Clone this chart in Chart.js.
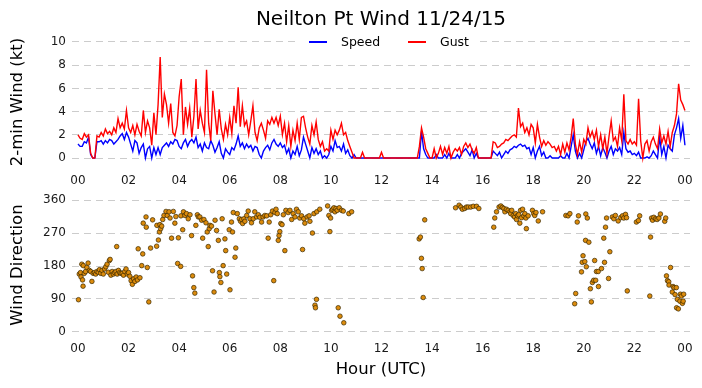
<!DOCTYPE html>
<html>
<head>
<meta charset="utf-8">
<script src="https://cdn.jsdelivr.net/npm/chart.js@4.4.1/dist/chart.umd.min.js"></script>
<style>
  html, body { margin: 0; padding: 0; background: #fff; }
  #wrap { position: relative; width: 702px; height: 388px; overflow: hidden; font-family: 'DejaVu Sans', sans-serif; }
  #title { position: absolute; left: 72px; width: 618px; top: 6px; line-height: 24px; text-align: center; font-size: 20px; color: #000; }
  #c1 { position: absolute; left: 0; top: 0; }
  #c2 { position: absolute; left: 0; top: 189px; }
  #legend { position: absolute; left: 300px; top: 33px; width: 177px; height: 18px; background: #fff; }
  .sw { position: absolute; top: 8px; height: 1.5px; width: 18px; }
  .lt { position: absolute; top: 0; font-size: 12.5px; line-height: 18px; color: #000; }
</style>
</head>
<body>
<div id="wrap">
  <canvas id="c1" width="702" height="192"></canvas>
  <canvas id="c2" width="702" height="199"></canvas>
  <div id="title">Neilton Pt Wind 11/24/15</div>
  <div id="legend">
    <div class="sw" style="left:9px;background:#0000ff"></div><div class="lt" style="left:41px" id="lab0"></div>
    <div class="sw" style="left:108px;background:#ff0000"></div><div class="lt" style="left:140px" id="lab1"></div>
  </div>
</div>
<script>
// ---- data (5-minute samples, 00 UTC to 24 UTC) ----
const SAMPLE_MINUTES = 5;
const seriesNames = ['Speed', 'Gust'];
const speed = [
  1.2,1.0,1.0,1.4,1.3,1.8,0.3,0,0,1.4,1.4,1.5,
  1.2,1.5,1.3,1.6,1.5,1.2,1.4,1.6,1.9,2.1,1.6,2.2,
  1.8,1.2,0.6,1.5,1.3,0.4,0.9,1.2,0,0.8,1.0,0,
  0.9,0.3,0.9,0.3,0.9,1.1,1.3,1.0,1.4,1.2,1.6,1.5,
  1.0,0.8,1.3,1.6,1.0,1.4,1.6,1.3,1.8,0.9,1.2,0.6,
  1.3,0.9,0.8,1.5,1.1,0.5,0.9,1.4,0.4,0,0.8,0.5,
  0.3,0.9,0.7,1.2,1.9,1.0,1.3,0.8,1.2,0.9,1.1,0.6,
  1.0,0.9,0.3,0,0.6,0.9,1.1,0.7,1.3,1.6,1.2,1.0,
  1.3,0.9,1.1,0.4,0.8,0,0.6,0.3,1.0,0.2,0.7,1.8,
  1.2,0.6,0,0.9,0.4,0.8,0.3,0.6,0,0.2,0,0.3,
  1.0,0.6,1.5,0.9,1.0,0.6,1.2,0.4,0.7,0.2,0,0.3,
  0,0,0,0,0,0,0,0,0,0,0,0,
  0,0,0,0,0,0,0,0,0,0,0,0,
  0,0,0,0,0,0,0,2.3,0.8,0.3,0,0,
  0,0,0.3,0,0,0,0.3,0,0.4,0,0,0,
  0.3,0,0.4,0.6,0.8,0.5,0.2,0.7,0,0.4,0,0,
  0,0,0,0,0,0.6,0.4,0.2,0.5,0,0.3,0.6,
  0.4,0.7,0.8,1.0,0.9,1.1,1.2,1.0,1.1,0.8,0.9,0.3,
  0.9,0,0.6,1.0,0.2,0.5,0,0,0.2,0,0,0,
  0,0.2,0,0,0.4,0,1.0,2.0,0.6,0,0.4,0,
  0.7,1.4,1.7,1.2,0.8,1.3,0.4,1.0,0.2,0.9,0.5,0,
  0.6,1.0,0.3,0.8,0.6,0.9,0.3,2.2,0.8,0.5,0.6,0.3,
  0.4,0.2,0.5,0,0,0,0.1,0,0.2,0.6,0.3,0,
  1.8,0.3,1.0,0,1.1,0.8,0.6,2.0,2.6,3.4,1.7,2.8,
  1.1
];
const gust = [
  2.0,1.7,1.6,2.1,1.8,2.0,0.4,0,0,1.9,1.8,2.2,
  1.9,2.5,2.1,2.3,2.0,2.6,2.2,3.4,2.6,3.0,2.5,4.1,
  2.6,2.2,2.8,2.0,2.9,2.3,1.9,4.1,2.2,3.2,2.6,1.1,
  3.9,2.0,4.6,8.7,3.5,5.5,4.6,3.0,4.7,2.2,1.9,2.8,
  5.3,6.8,2.0,4.4,2.9,4.3,1.8,3.6,6.8,2.5,4.1,3.0,
  2.2,7.6,3.0,1.5,5.8,3.8,2.0,4.2,2.5,1.6,2.9,2.0,
  3.5,2.1,4.5,3.0,6.1,2.7,4.5,2.8,3.2,2.0,3.2,4.5,
  2.2,1.5,2.6,3.0,2.4,1.7,3.2,2.9,3.5,3.0,3.5,2.8,
  3.6,2.0,3.0,1.4,2.8,1.0,2.4,1.5,3.0,1.6,3.5,3.6,
  2.6,1.8,1.2,2.8,2.0,3.1,1.6,1.0,1.4,0.6,0.8,0.6,
  2.4,1.6,2.4,2.0,2.4,3.0,2.0,2.2,1.5,1.0,0.5,0,
  0,0,0,0.5,0,0,0,0,0,0,0,0,
  0.5,0,0,0,0,0,0,0,0,0,0,0,
  0,0,0,0,0,0,1.0,2.6,1.8,0.8,0.4,0,
  0,0.8,0,0.4,1.0,0.3,0.9,0.4,1.0,0,0.5,0.8,
  0.6,0.9,0.3,1.0,1.3,0.9,1.2,0.7,0.4,0.9,0,0,
  0,0,0,0,0,1.4,1.3,0.9,1.0,1.2,1.3,1.6,
  1.5,1.7,1.9,2.0,1.8,4.3,2.7,3.0,2.2,2.6,2.0,2.9,
  2.6,1.3,2.9,1.8,1.0,1.5,1.1,1.4,1.2,0.9,1.0,0.6,
  1.0,0.3,1.2,0.5,1.3,0.7,1.8,3.4,1.2,0.3,1.4,0.5,
  1.6,1.2,2.6,1.8,2.3,1.6,2.4,1.0,2.0,0.8,1.8,0.4,
  1.9,3.2,1.5,1.8,1.0,2.6,1.5,5.5,1.5,1.2,1.6,1.2,
  1.4,1.1,5.1,1.5,0,1.2,1.5,0.6,1.4,1.8,1.2,0.8,
  2.5,1.3,1.9,1.2,2.3,1.0,2.2,2.8,3.8,6.4,5.0,4.6,
  4.1
];
const sampleHours = speed.map((_, i) => i * SAMPLE_MINUTES / 60);

const dirHour = [
  0.02,0.05,0.10,0.12,0.15,0.18,0.20,0.21,0.25,0.30,0.35,0.40,0.45,0.50,0.55,0.60,0.65,0.70,0.75,0.80,
  0.85,0.90,0.95,1.00,1.05,1.10,1.15,1.20,1.24,1.27,1.30,1.35,1.40,1.45,1.50,1.53,1.55,1.60,1.65,1.70,
  1.75,1.80,1.85,1.90,1.95,2.00,2.05,2.10,2.15,2.20,2.25,2.30,2.35,2.38,2.45,2.52,2.56,2.58,2.69,2.70,
  2.74,2.80,2.87,2.95,3.11,3.12,3.18,3.22,3.24,3.27,3.31,3.35,3.40,3.48,3.53,3.60,3.64,3.70,3.77,3.83,
  3.87,3.94,3.97,4.06,4.07,4.14,4.17,4.23,4.29,4.36,4.43,4.49,4.53,4.58,4.62,4.66,4.72,4.76,4.82,4.89,
  4.93,4.98,5.06,5.11,5.15,5.19,5.22,5.28,5.32,5.38,5.42,5.48,5.55,5.59,5.61,5.65,5.70,5.74,5.81,5.84,
  5.88,5.98,6.01,6.07,6.11,6.14,6.21,6.24,6.30,6.38,6.43,6.47,6.51,6.56,6.60,6.67,6.73,6.80,6.86,6.93,
  6.99,7.06,7.13,7.19,7.26,7.32,7.39,7.46,7.52,7.56,7.62,7.69,7.74,7.79,7.83,7.88,7.92,7.95,7.98,8.02,
  8.07,8.12,8.18,8.22,8.31,8.38,8.45,8.51,8.58,8.64,8.71,8.77,8.84,8.88,8.93,8.97,9.06,9.14,9.17,9.27,
  9.33,9.37,9.39,9.43,9.44,9.56,9.87,9.92,9.96,9.99,10.03,10.07,10.12,10.16,10.20,10.25,10.29,10.33,10.36,10.42,
  10.49,10.51,10.71,10.82,13.49,13.54,13.58,13.61,13.65,13.71,14.93,15.07,15.14,15.20,15.29,15.36,15.43,15.53,15.63,15.76,
  15.85,16.44,16.48,16.55,16.65,16.72,16.78,16.84,16.88,16.94,17.01,17.08,17.11,17.15,17.21,17.26,17.31,17.34,17.38,17.43,
  17.47,17.50,17.54,17.58,17.63,17.67,17.71,17.73,17.80,17.97,18.02,18.06,18.11,18.20,18.37,19.29,19.38,19.45,19.64,19.68,
  19.74,19.79,19.91,19.94,19.97,20.04,20.07,20.08,20.10,20.14,20.20,20.26,20.30,20.34,20.39,20.43,20.47,20.50,20.57,20.58,
  20.70,20.79,20.82,20.86,20.90,20.98,21.03,21.13,21.19,21.25,21.36,21.46,21.53,21.58,21.65,21.69,21.72,22.08,22.16,22.21,
  22.61,22.64,22.68,22.72,22.77,22.84,22.90,22.97,23.03,23.20,23.24,23.27,23.31,23.36,23.37,23.43,23.50,23.53,23.57,23.61,
  23.66,23.67,23.70,23.74,23.80,23.82,23.86,23.90,23.93,23.95
];
const dirDeg = [
  88,158,162,150,185,142,125,181,160,165,176,188,168,165,138,160,162,158,165,163,
  170,160,168,158,172,178,185,163,195,198,155,165,158,162,165,233,158,168,162,160,
  160,155,165,172,158,162,152,140,130,145,138,150,142,227,148,181,213,297,314,286,
  176,82,229,306,234,291,251,273,293,282,289,307,318,329,318,328,311,256,329,297,
  315,187,257,179,317,279,328,318,323,309,320,263,153,121,106,291,320,314,314,305,
  256,307,298,273,233,282,291,289,167,109,305,277,250,162,151,135,309,181,254,222,
  158,279,115,300,273,326,204,229,323,309,302,307,296,309,302,318,330,309,298,309,
  328,314,320,313,300,314,318,317,256,300,320,330,140,326,335,323,250,263,274,296,
  293,320,222,332,326,332,307,323,314,335,328,311,317,225,309,297,314,317,302,270,
  323,73,66,89,328,335,344,318,274,311,332,335,339,328,337,332,66,339,43,332,
  330,25,323,328,254,259,201,173,94,306,339,346,341,335,337,341,341,341,343,343,
  337,286,311,328,341,344,340,337,328,335,332,328,323,332,318,314,323,307,317,320,
  297,332,312,335,317,323,311,282,317,332,323,318,326,303,328,318,317,323,77,105,
  300,317,164,190,208,192,250,322,178,311,245,118,82,135,141,195,141,165,165,124,
  173,256,190,286,311,146,219,314,309,318,303,312,317,311,321,312,112,300,304,317,
  98,259,311,305,313,309,307,311,322,302,311,153,140,137,128,176,109,124,121,102,
  121,66,89,63,84,103,98,78,84,103
];

const hourTicks = [0,2,4,6,8,10,12,14,16,18,20,22,24];
const speedTicks = [0,2,4,6,8,10];
const dirTicks = [0,90,180,270,360];

document.getElementById('lab0').textContent = seriesNames[0];
document.getElementById('lab1').textContent = seriesNames[1];

const FONT = 'DejaVu Sans';
const tickFont = { family: FONT, size: 12 };
const X_MIN = -0.237, X_MAX = 24.2;

function noPad(s) { s.paddingTop = 0; s.paddingBottom = 0; s.paddingLeft = 0; s.paddingRight = 0; }

function xScale(axisHeight, extra) {
  return Object.assign({
    type: 'linear', min: X_MIN, max: X_MAX,
    grid: { display: false, drawTicks: false },
    border: { display: false },
    afterBuildTicks: s => { s.ticks = hourTicks.map(v => ({ value: v })); },
    afterFit: s => { s.height = axisHeight; noPad(s); },
    ticks: {
      padding: 6, maxRotation: 0, autoSkip: false, color: '#1a1a1a', font: tickFont,
      callback: v => String(v % 24).padStart(2, '0')
    }
  }, extra || {});
}
function yScale(min, max, ticks, titleText) {
  return {
    type: 'linear', min: min, max: max,
    afterBuildTicks: s => { s.ticks = ticks.map(v => ({ value: v })); },
    afterFit: s => { s.width = 72; noPad(s); },
    grid: { color: '#cccccc', lineWidth: 1, drawTicks: false },
    border: { display: false, dash: [7, 5] },
    ticks: { padding: 6, color: '#1a1a1a', font: tickFont },
    title: { display: true, text: titleText, color: '#000', font: { family: FONT, size: 16.5 }, padding: { top: 8, bottom: 0 } }
  };
}

new Chart(document.getElementById('c1'), {
  type: 'line',
  data: {
    datasets: [
      { label: seriesNames[0], data: sampleHours.map((h, i) => ({ x: h, y: speed[i] })),
        borderColor: '#0000ff', borderWidth: 1.4, pointRadius: 0, tension: 0, order: 2 },
      { label: seriesNames[1], data: sampleHours.map((h, i) => ({ x: h, y: gust[i] })),
        borderColor: '#ff0000', borderWidth: 1.4, pointRadius: 0, tension: 0, order: 1 }
    ]
  },
  options: {
    responsive: false, animation: false, events: [],
    layout: { padding: { top: 36, right: 12, left: 0, bottom: 0 } },
    plugins: { legend: { display: false }, tooltip: { enabled: false } },
    scales: {
      x: xScale(24),
      y: yScale(-0.862, 10.517, speedTicks, '2-min Wind (kt)')
    }
  }
});

new Chart(document.getElementById('c2'), {
  type: 'scatter',
  data: {
    datasets: [
      { label: 'Direction', data: dirHour.map((h, i) => ({ x: h, y: dirDeg[i] })),
        backgroundColor: '#dc8b0c', borderColor: '#3a2800', borderWidth: 0.7, pointRadius: 2.3 }
    ]
  },
  options: {
    responsive: false, animation: false, events: [],
    layout: { padding: { top: 5, right: 12, left: 0, bottom: 0 } },
    plugins: { legend: { display: false }, tooltip: { enabled: false } },
    scales: {
      x: xScale(52, { title: { display: true, text: 'Hour (UTC)', color: '#000', font: { family: FONT, size: 16.5 }, padding: { top: 0, bottom: 8 } } }),
      y: yScale(-11.08, 376.6, dirTicks, 'Wind Direction')
    }
  }
});
</script>
</body>
</html>
